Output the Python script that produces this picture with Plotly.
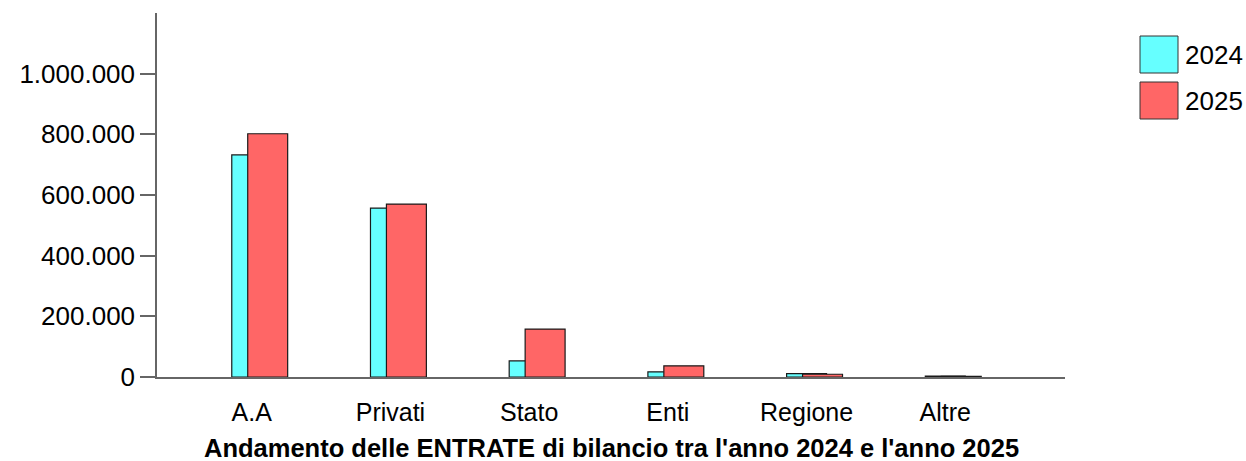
import plotly.graph_objects as go

categories = ["A.A", "Privati", "Stato", "Enti", "Regione", "Altre"]
series_names = ["2024", "2025"]
values_2024 = [732000, 557000, 53000, 17000, 11000, 3000]
values_2025 = [802000, 570000, 158000, 37000, 9000, 2000]
colors = ["#66FFFF", "#FF6666"]
y_tickvals = [0, 200000, 400000, 600000, 800000, 1000000]
y_ticktext = ["0", "200.000", "400.000", "600.000", "800.000", "1.000.000"]
title_text = "Andamento delle ENTRATE di bilancio tra l'anno 2024 e l'anno 2025"

FONT = "Liberation Sans, Arial, sans-serif"
xpos = list(range(len(categories)))
bar_w = 0.288

fig = go.Figure()
fig.add_trace(go.Bar(
    x=xpos, y=values_2024, name=series_names[0], width=bar_w, offset=-0.144,
    marker=dict(color=colors[0], line=dict(color="#1a1a1a", width=1.2)),
    showlegend=False,
))
fig.add_trace(go.Bar(
    x=xpos, y=values_2025, name=series_names[1], width=bar_w, offset=-0.029,
    marker=dict(color=colors[1], line=dict(color="#1a1a1a", width=1.2)),
    showlegend=False,
))

fig.update_layout(
    barmode="overlay",
    width=1246, height=461,
    margin=dict(l=157, r=181, t=13, b=84),
    paper_bgcolor="white", plot_bgcolor="white",
    font=dict(family=FONT, size=26, color="black"),
    xaxis=dict(
        range=[-0.683, 5.863], tickvals=xpos, ticktext=categories,
        showgrid=False, zeroline=False, showline=True, linecolor="#666666", linewidth=1.5,
        ticks="", ticklabelstandoff=12, tickfont=dict(size=25),
    ),
    yaxis=dict(
        range=[0, 1200000], tickvals=y_tickvals, ticktext=y_ticktext,
        showgrid=False, zeroline=False, showline=True, linecolor="#666666", linewidth=1.5,
        ticks="outside", ticklen=15, tickcolor="#666666", tickwidth=1.5,
        tickfont=dict(size=26),
    ),
    annotations=[
        dict(text="<b>" + title_text + "</b>", xref="paper", yref="paper",
             x=0.5, y=0.0, xanchor="center", yanchor="middle",
             yshift=-71, showarrow=False, font=dict(size=25.5, family=FONT)),
    ],
)

# custom legend (large swatches)
legend_top = [36, 82]
for i, name in enumerate(series_names):
    y0 = legend_top[i]
    fig.add_shape(type="rect", xref="paper", yref="paper",
                  x0=(1140 - 157) / 908, x1=(1178 - 157) / 908,
                  y0=1 - (y0 + 37 - 13) / 364, y1=1 - (y0 - 13) / 364,
                  fillcolor=colors[i], line=dict(color="#333333", width=1))
    fig.add_annotation(text=name, xref="paper", yref="paper",
                       x=(1183 - 157) / 908, y=1 - (y0 + 18.5 - 13) / 364,
                       xanchor="left", yanchor="middle", showarrow=False,
                       font=dict(size=26, family=FONT))

fig.write_html("out.html", config={"displayModeBar": False})

# remove default page margin so the figure sits at the window origin
with open("out.html", "r", encoding="utf-8") as f:
    html = f.read()
html = html.replace("<body>", '<body style="margin:0;padding:0;overflow:hidden">', 1)
with open("out.html", "w", encoding="utf-8") as f:
    f.write(html)
